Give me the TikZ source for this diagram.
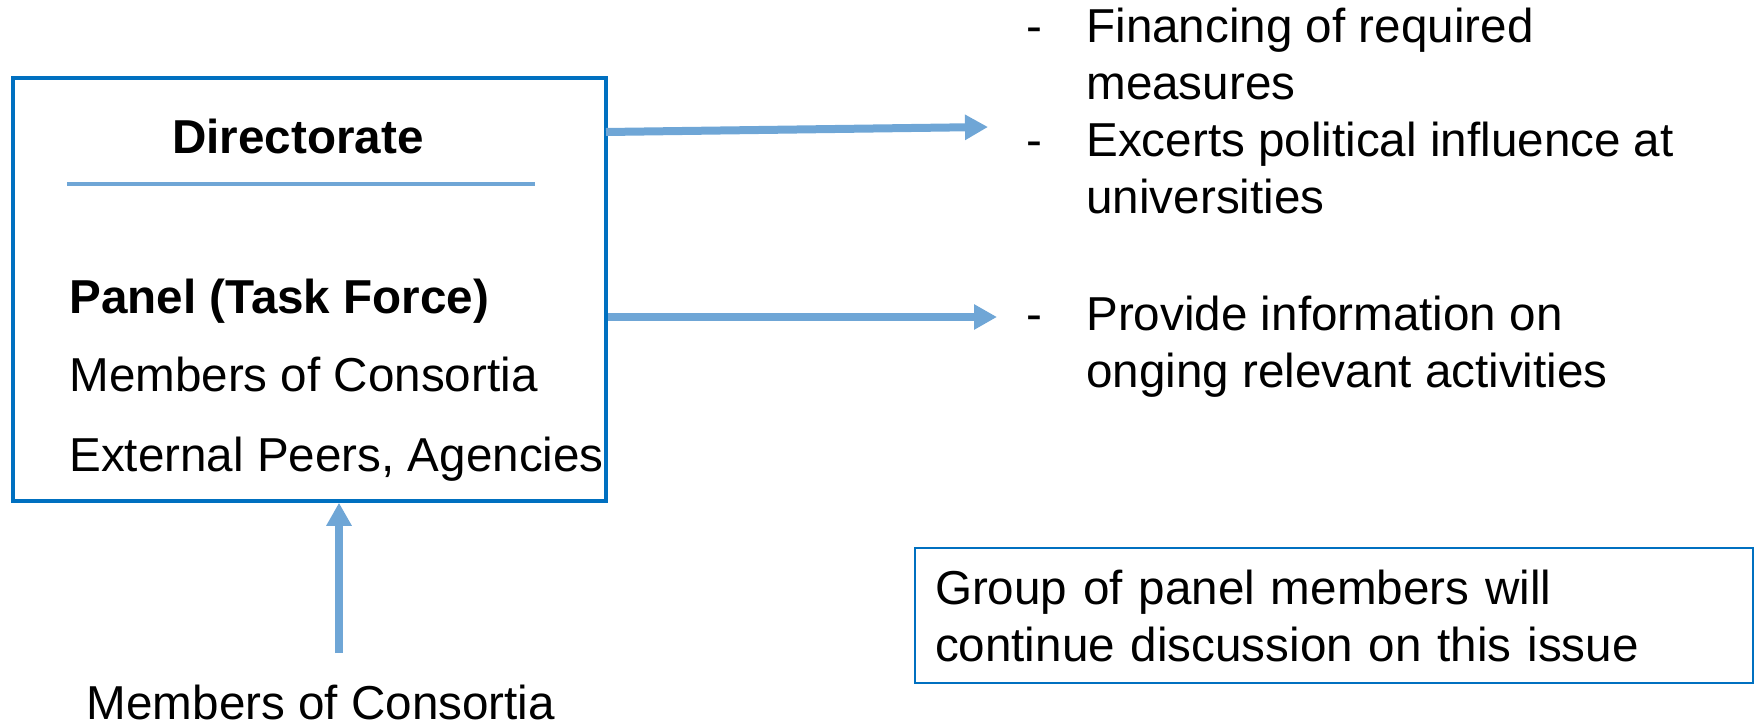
\documentclass[tikz,border=0pt]{standalone}
\usepackage{fontspec}
\setmainfont{Liberation Sans}
\usetikzlibrary{arrows.meta}

\begin{document}
\begin{tikzpicture}[x=0.5pt, y=-0.5pt, every node/.style={inner sep=0pt, font=\fontsize{23.8pt}{28.5pt}\selectfont}]
  \definecolor{boxblue}{HTML}{0070C0} \definecolor{flowblue}{HTML}{6FA6D6}
  \tikzstyle{flow}=[-{Triangle[length=11.5pt, width=12pt]}, line width=4pt, draw=flowblue]
  \tikzstyle{notebox}=[draw=boxblue, line width=1pt, inner xsep=10pt, align=left]
  \useasboundingbox (0,0) rectangle (1754,727);
  % directorate box
  \node[draw=boxblue, line width=1.75pt, minimum width=296.5pt, minimum height=211.5pt] (board) at (309.5,289.5) {};
  \node[anchor=base] (dir) at (298,154) {\textbf{Directorate}};
  \draw[line width=2pt, flowblue] (67,184) -- (535,184);
  \node[anchor=base west] (panel) at (69,313) {\textbf{Panel (Task Force)}};
  \node[anchor=base west] (consortia) at (69,391) {Members of Consortia};
  \node[anchor=base west] (peers) at (69,471) {External Peers, Agencies};
  % tasks
  \node[anchor=base west] (tasks) at (1026,43) {\begin{tabular}[t]{@{}p{18pt}l@{}}
    - & Financing of required\\
      & measures\\
    - & Excerts political influence at\\
      & universities
  \end{tabular}};
  \node[anchor=base west] (info) at (1026,330) {\begin{tabular}[t]{@{}p{18pt}l@{}}
    - & Provide information on\\
      & onging relevant activities
  \end{tabular}};
  \node[notebox, text width=399pt, minimum height=67.5pt, anchor=north west] (note) at (914,547)
    {Group of panel members will\\continue discussion on this issue};
  \node[anchor=base] (members) at (321,719) {Members of Consortia};
  \coordinate (out1) at (606,132); \coordinate (fin) at (988,127);
  \coordinate (inf) at (997,317);
  \coordinate (up) at (339,653);
  \draw[flow] (out1) -- (fin);
  \draw[flow] (board.east |- inf) -- (inf);
  \draw[flow] (up) -- (up |- board.south);
\end{tikzpicture}
\end{document}
